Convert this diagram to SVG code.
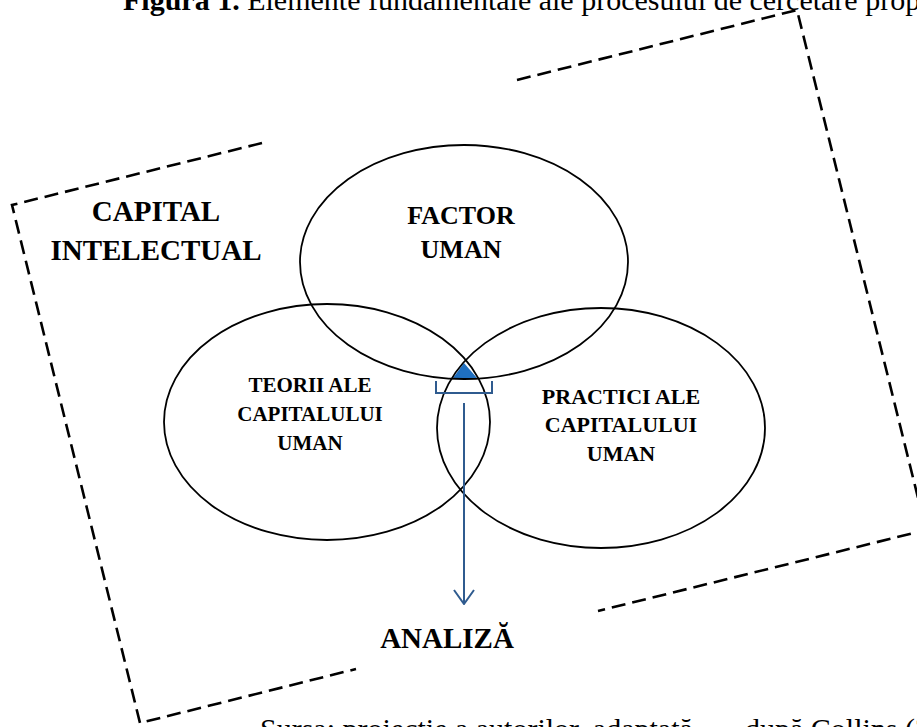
<svg xmlns="http://www.w3.org/2000/svg" width="917" height="727" viewBox="0 0 917 727">
  <style>
    .frame { fill: none; stroke: #000; stroke-width: 2.6; stroke-dasharray: 14 7; }
    .ring { fill: none; stroke: #000; stroke-width: 1.8; }
    .lbl { font-family: "Liberation Serif", "Times New Roman", serif; font-weight: bold; fill: #000; text-anchor: middle; }
    .big { font-size: 29px; }
    .mid { font-size: 26px; }
    .small { font-size: 21px; }
    .small-r { font-size: 22px; }
    .cap { font-family: "Liberation Serif", "Times New Roman", serif; font-size: 30px; fill: #000; }
    .blue { fill: none; stroke: #2f5b8f; stroke-width: 2; }
  </style>
  <defs>
    <marker id="vhead" markerUnits="userSpaceOnUse" viewBox="0 0 16 22" refX="15" refY="11" markerWidth="16" markerHeight="22" orient="auto">
      <path d="M1,1 L15,11 L1,21" fill="none" stroke="#2f5b8f" stroke-width="2"/>
    </marker>
  </defs>

  <rect width="917" height="727" fill="#fff"/>

  <!-- caption lines, cut by the page edges -->
  <text class="cap" x="123" y="10"><tspan font-weight="bold">Figura 1.</tspan> Elemente fundamentale ale procesului de cercetare prop</text>
  <text class="cap" x="260" y="739">Sursa: proiecție a autorilor, adaptată <tspan x="745">după Collins (2</tspan></text>

  <!-- dashed tilted frame (intellectual capital boundary) -->
  <g id="frame">
    <path class="frame" d="M262,143 L12,205 L140,723 L356,669"/>
    <path class="frame" d="M517,80 L797,10 L926,530 L598,611"/>
  </g>

  <!-- highlighted intersection -->
  <g id="core">
    <polygon points="464,363 453,378 477,378" fill="#1f6fc0"/>
  </g>

  <g id="factor-uman">
    <ellipse class="ring" cx="464" cy="262" rx="164" ry="117"/>
    <text class="lbl mid" x="461" y="224">FACTOR</text>
    <text class="lbl mid" x="461" y="258">UMAN</text>
  </g>

  <g id="teorii">
    <ellipse class="ring" cx="327" cy="422" rx="163" ry="118"/>
    <text class="lbl small" x="310" y="392">TEORII ALE</text>
    <text class="lbl small" x="310" y="421">CAPITALULUI</text>
    <text class="lbl small" x="310" y="450">UMAN</text>
  </g>

  <g id="practici">
    <ellipse class="ring" cx="601" cy="428" rx="164" ry="120"/>
    <text class="lbl small-r" x="621" y="404">PRACTICI ALE</text>
    <text class="lbl small-r" x="621" y="432">CAPITALULUI</text>
    <text class="lbl small-r" x="621" y="461">UMAN</text>
  </g>

  <g id="capital-intelectual">
    <text class="lbl big" x="156" y="221">CAPITAL</text>
    <text class="lbl big" x="156" y="260">INTELECTUAL</text>
  </g>

  <g id="analiza">
    <text class="lbl big" x="447" y="648">ANALIZĂ</text>
  </g>

  <g id="connectors">
    <path class="blue" d="M436,381 V393 H492 V381"/>
    <line class="blue" x1="464" y1="403" x2="464" y2="604" marker-end="url(#vhead)"/>
  </g>
</svg>
